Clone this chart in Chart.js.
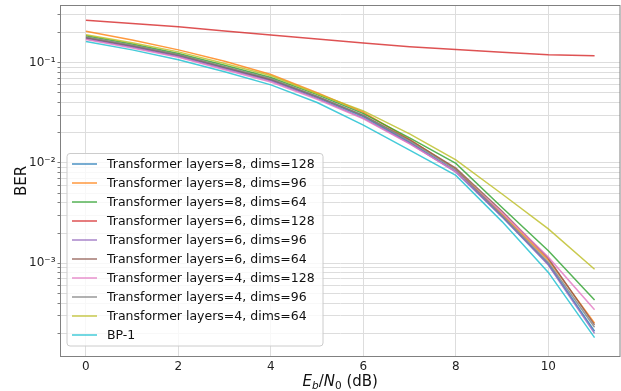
<!DOCTYPE html>
<html>
<head>
<meta charset="utf-8">
<script src="https://cdn.jsdelivr.net/npm/chart.js@4.4.1/dist/chart.umd.min.js"></script>
<style>
  html, body { margin: 0; padding: 0; background: #fff; }
</style>
</head>
<body>
<canvas id="berChart" width="621" height="391"></canvas>
<script>
// Eb/N0 in dB
const snr = [0, 1, 2, 3, 4, 5, 6, 7, 8, 9, 10, 11];
const xTicks = [0, 2, 4, 6, 8, 10];
const yDecades = [1e-4, 1e-3, 1e-2, 1e-1];

const tf8x128 = [0.176, 0.145, 0.117, 0.089, 0.067, 0.045, 0.029, 0.016, 0.0083, 0.0029, 0.00098, 0.00021];
const tf8x96 = [0.205, 0.168, 0.134, 0.103, 0.076, 0.050, 0.032, 0.0172, 0.0087, 0.0031, 0.00108, 0.000253];
const tf8x64 = [0.185, 0.153, 0.123, 0.094, 0.071, 0.048, 0.031, 0.0178, 0.0099, 0.0036, 0.00133, 0.00043];
const tf6x128 = [0.265, 0.246, 0.228, 0.207, 0.188, 0.172, 0.157, 0.144, 0.135, 0.127, 0.120, 0.117];
const tf6x96 = [0.173, 0.143, 0.115, 0.087, 0.066, 0.044, 0.028, 0.0157, 0.0081, 0.0029, 0.00096, 0.0002];
const tf6x64 = [0.178, 0.147, 0.119, 0.090, 0.068, 0.046, 0.0298, 0.0170, 0.0089, 0.0033, 0.00112, 0.000243];
const tf4x128 = [0.170, 0.140, 0.113, 0.085, 0.064, 0.043, 0.0275, 0.0155, 0.0082, 0.0032, 0.00115, 0.000344];
const tf4x96 = [0.180, 0.149, 0.120, 0.091, 0.069, 0.046, 0.0295, 0.0165, 0.0086, 0.0030, 0.00102, 0.00023];
const tf4x64 = [0.190, 0.158, 0.128, 0.098, 0.074, 0.049, 0.033, 0.0195, 0.0107, 0.0049, 0.0022, 0.00087];
const bp1 = [0.162, 0.134, 0.107, 0.081, 0.060, 0.040, 0.0238, 0.0134, 0.0075, 0.0026, 0.00081, 0.000181];

const seriesNames = [
  "Transformer layers=8, dims=128",
  "Transformer layers=8, dims=96",
  "Transformer layers=8, dims=64",
  "Transformer layers=6, dims=128",
  "Transformer layers=6, dims=96",
  "Transformer layers=6, dims=64",
  "Transformer layers=4, dims=128",
  "Transformer layers=4, dims=96",
  "Transformer layers=4, dims=64",
  "BP-1",
];
const seriesValues = [tf8x128, tf8x96, tf8x64, tf6x128, tf6x96, tf6x64, tf4x128, tf4x96, tf4x64, bp1];

// tab10, slightly faded like the original
const colors = [
  "rgba(31,119,180,0.8)", "rgba(255,127,14,0.8)", "rgba(44,160,44,0.8)",
  "rgba(214,39,40,0.8)", "rgba(148,103,189,0.8)", "rgba(140,86,75,0.8)",
  "rgba(227,119,194,0.8)", "rgba(127,127,127,0.8)", "rgba(188,189,34,0.8)",
  "rgba(23,190,207,0.8)",
];

const FONT = "'DejaVu Sans', sans-serif";
Chart.defaults.font.family = FONT;

const sup = { "-": "\u207B", "0": "\u2070", "1": "\u00B9", "2": "\u00B2", "3": "\u00B3", "4": "\u2074" };
const powLabel = (e) => "10" + String(e).split("").map((c) => sup[c]).join("");

// frame, axis titles and the matplotlib-style legend
const decorations = {
  id: "decorations",
  afterDatasetsDraw(chart) {
    const { ctx, chartArea: a } = chart;
    ctx.save();
    ctx.strokeStyle = "#808080";
    ctx.lineWidth = 1;
    ctx.strokeRect(a.left, a.top, a.right - a.left, a.bottom - a.top);

    // legend
    const lx = 67, ly = 153.5, lw = 256, lh = 192.5;
    ctx.beginPath();
    ctx.roundRect(lx, ly, lw, lh, 3);
    ctx.fillStyle = "rgba(255,255,255,0.8)";
    ctx.fill();
    ctx.strokeStyle = "#cccccc";
    ctx.stroke();
    ctx.font = "12.5px " + FONT;
    ctx.textBaseline = "middle";
    chart.data.datasets.forEach((ds, i) => {
      const y = 164 + 19 * i;
      ctx.strokeStyle = ds.borderColor;
      ctx.lineWidth = 1.5;
      ctx.beginPath();
      ctx.moveTo(72, y);
      ctx.lineTo(97, y);
      ctx.stroke();
      ctx.fillStyle = "#111";
      ctx.fillText(ds.label, 107, y + 0.5);
    });
    ctx.restore();
  },
  afterDraw(chart) {
    const { ctx, chartArea: a } = chart;
    ctx.save();
    ctx.fillStyle = "#111";
    ctx.textBaseline = "middle";
    ctx.textAlign = "center";
    ctx.font = "15px " + FONT;
    ctx.translate(22, (a.top + a.bottom) / 2);
    ctx.rotate(-Math.PI / 2);
    ctx.fillText("BER", 0, 0);
    ctx.restore();

    // E_b/N_0 (dB)
    ctx.save();
    ctx.fillStyle = "#111";
    ctx.textBaseline = "alphabetic";
    const parts = [
      { t: "E", f: "italic 15px " + FONT, dy: 0 },
      { t: "b", f: "italic 10.5px " + FONT, dy: 3 },
      { t: "/", f: "15px " + FONT, dy: 0 },
      { t: "N", f: "italic 15px " + FONT, dy: 0 },
      { t: "0", f: "10.5px " + FONT, dy: 3 },
      { t: " (dB)", f: "15px " + FONT, dy: 0 },
    ];
    let total = 0;
    parts.forEach((p) => { ctx.font = p.f; p.w = ctx.measureText(p.t).width; total += p.w; });
    let x = (a.left + a.right) / 2 - total / 2;
    parts.forEach((p) => { ctx.font = p.f; ctx.fillText(p.t, x, 386 + p.dy); x += p.w; });
    ctx.restore();
  },
};

new Chart(document.getElementById("berChart"), {
  type: "line",
  data: {
    datasets: seriesValues.map((vals, i) => ({
      label: seriesNames[i],
      data: vals.map((v, j) => ({ x: snr[j], y: v })),
      borderColor: colors[i],
      backgroundColor: colors[i],
      borderWidth: 1.5,
      pointRadius: 0,
      tension: 0,
      fill: false,
      order: seriesValues.length - i,
    })),
  },
  options: {
    responsive: false,
    animation: false,
    devicePixelRatio: 1,
    layout: { padding: { top: 5.5, right: 1, left: 0, bottom: 0 } },
    plugins: { legend: { display: false }, tooltip: { enabled: false } },
    scales: {
      x: {
        type: "linear",
        min: -0.55,
        max: 11.55,
        afterBuildTicks: (scale) => { scale.ticks = xTicks.map((v) => ({ value: v })); },
        afterFit: (scale) => { scale.height = 34.5; scale.paddingLeft = 0; scale.paddingRight = 0; },
        grid: { color: "#dddddd", lineWidth: 1, drawTicks: false },
        border: { display: false },
        ticks: { color: "#222", font: { size: 12 }, padding: 3, autoSkip: false, maxRotation: 0 },
      },
      y: {
        type: "logarithmic",
        min: 1.175e-4,
        max: 0.371,
        afterBuildTicks: (scale) => {
          const ticks = [];
          yDecades.forEach((d) => {
            for (let m = 1; m <= 9; m++) {
              const v = m * d;
              if (v >= scale.min && v <= scale.max) ticks.push({ value: v, major: m === 1 });
            }
          });
          scale.ticks = ticks;
        },
        afterFit: (scale) => { scale.width = 60.5; scale.paddingTop = 0; scale.paddingBottom = 0; },
        grid: { color: "#dddddd", lineWidth: 1, tickLength: 3, tickColor: "#808080" },
        border: { display: false },
        ticks: {
          color: "#222",
          font: { size: 12 },
          padding: 2,
          autoSkip: false,
          callback: (v) => {
            const e = Math.round(Math.log10(v));
            return Math.abs(Math.log10(v) - e) < 1e-6 ? powLabel(e) : "";
          },
        },
      },
    },
  },
  plugins: [decorations],
});
</script>
</body>
</html>
